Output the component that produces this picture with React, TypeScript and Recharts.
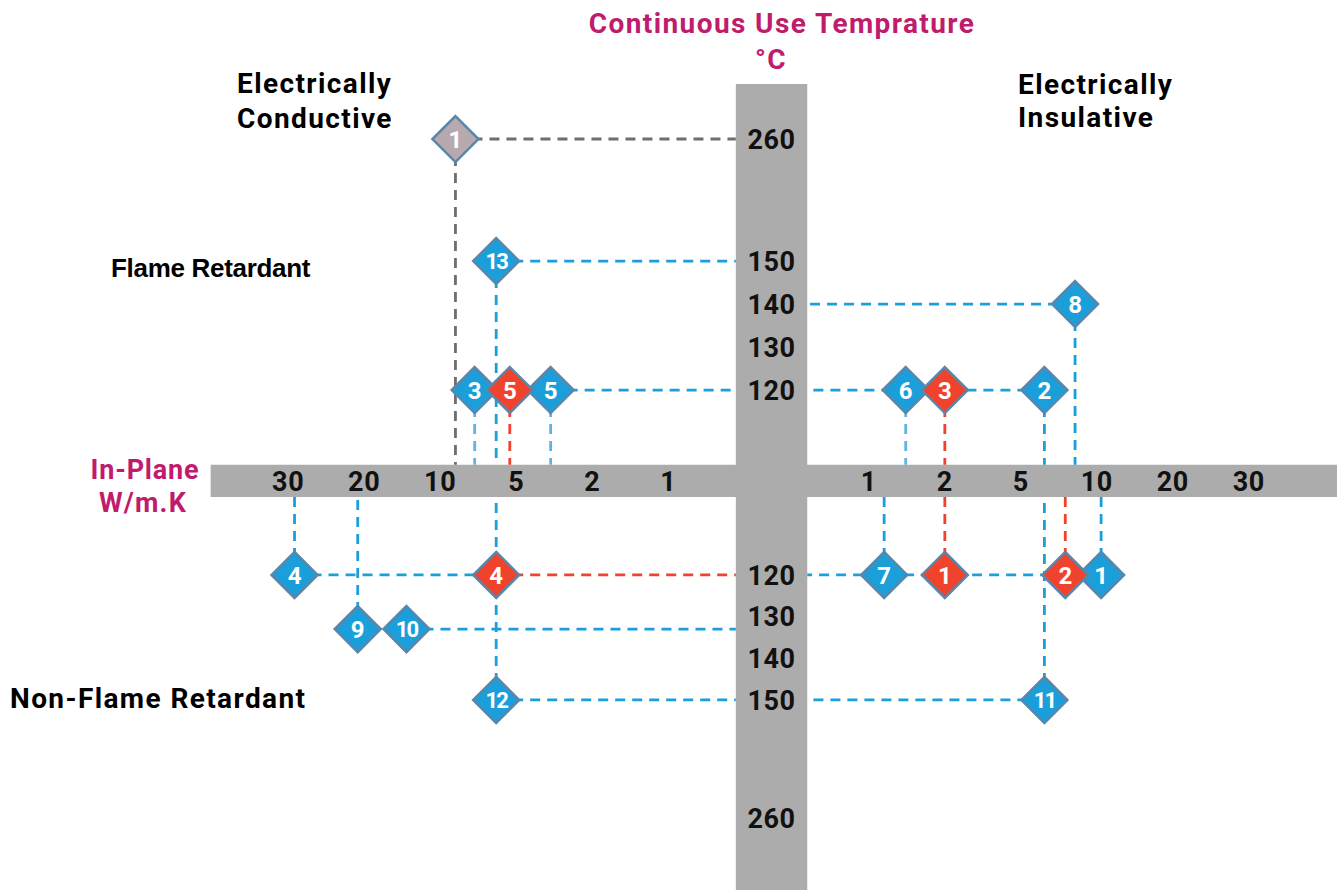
import React from 'react';
import { ScatterChart, Scatter, XAxis, YAxis, ReferenceArea, ReferenceLine } from 'recharts';

// ---------------- data ----------------
// axis tick values
const conductivityTicks = [1, 2, 5, 10, 20, 30]; // W/m.K (in-plane), mirrored on both sides
const temperatureTicks = [120, 130, 140, 150, 260]; // continuous use temperature, mirrored

// side: 'conductive' (left) | 'insulative' (right); fr: flame retardant (top) or not (bottom)
// h: horizontal connector -> true = to temperature axis, number = to point with that W/m.K
// v: vertical connector to conductivity axis
type Pt = { label: string; k: number; temp: number; side: 'conductive' | 'insulative'; fr: boolean; h?: boolean | number; v?: boolean };

const bluePoints: Pt[] = [
  { label: '13', k: 6, temp: 150, side: 'conductive', fr: true, h: true, v: true },
  { label: '3', k: 7.3, temp: 120, side: 'conductive', fr: true, v: true },
  { label: '5', k: 3.3, temp: 120, side: 'conductive', fr: true, h: true, v: true },
  { label: '6', k: 1.4, temp: 120, side: 'insulative', fr: true, v: true },
  { label: '2', k: 6.2, temp: 120, side: 'insulative', fr: true, h: true, v: true },
  { label: '8', k: 8.2, temp: 140, side: 'insulative', fr: true, h: true, v: true },
  { label: '4', k: 29, temp: 120, side: 'conductive', fr: false, h: 6, v: true },
  { label: '9', k: 20.7, temp: 133, side: 'conductive', fr: false, v: true },
  { label: '10', k: 13.6, temp: 133, side: 'conductive', fr: false, h: true },
  { label: '12', k: 6, temp: 150, side: 'conductive', fr: false, h: true, v: true },
  { label: '7', k: 1.15, temp: 120, side: 'insulative', fr: false, v: true },
  { label: '1', k: 10.4, temp: 120, side: 'insulative', fr: false, h: true, v: true },
  { label: '11', k: 6.2, temp: 150, side: 'insulative', fr: false, h: true, v: true },
];

const redPoints: Pt[] = [
  { label: '5', k: 5.3, temp: 120, side: 'conductive', fr: true, v: true },
  { label: '3', k: 2, temp: 120, side: 'insulative', fr: true, v: true },
  { label: '4', k: 6, temp: 120, side: 'conductive', fr: false, h: true },
  { label: '1', k: 2, temp: 120, side: 'insulative', fr: false, v: true },
  { label: '2', k: 7.5, temp: 120, side: 'insulative', fr: false, v: true },
];

const grayPoints: Pt[] = [
  { label: '1', k: 8.7, temp: 260, side: 'conductive', fr: true, h: true, v: true },
];

// ---------------- layout / scale ----------------
const W = 1343;
const H = 890;
const X_UNIT = 76; // px per conductivity step
const X_CENTER = 768.5;
const X_GAP = 1.32; // steps from centre to the "1" tick
const Y_UNIT = 43;
const Y_CENTER = 482.5;
const Y_GAP = 2.15;
const BOTTOM_SQUEEZE = 0.969;

const X_DOMAIN: [number, number] = [-X_CENTER / X_UNIT, (W - X_CENTER) / X_UNIT];
const Y_DOMAIN: [number, number] = [-(H - Y_CENTER) / Y_UNIT, Y_CENTER / Y_UNIT];

// gray axis bars (in chart units)
const BAR_V = { x1: -0.43, x2: 0.51, y1: Y_DOMAIN[0], y2: 9.27 };
const BAR_H = { x1: -7.34, x2: 7.48, y1: -0.34, y2: 0.41 };

// broken log-like conductivity scale
function kLevel(k: number): number {
  const t = conductivityTicks;
  if (k <= t[0]) return Math.log(k / t[0]) / Math.log(t[1] / t[0]);
  for (let i = 0; i < t.length - 1; i++) {
    if (k <= t[i + 1]) return i + Math.log(k / t[i]) / Math.log(t[i + 1] / t[i]);
  }
  const n = t.length - 1;
  return n + Math.log(k / t[n]) / Math.log(t[n] / t[n - 1]);
}
// broken temperature scale (150 -> 260 compressed)
function tLevel(temp: number): number {
  if (temp <= 150) return (temp - 120) / 10;
  return 3 + (temp - 150) * 0.0258;
}
const xOf = (k: number, side: Pt['side']) => (side === 'conductive' ? -1 : 1) * (X_GAP + kLevel(k));
const yOf = (temp: number, fr: boolean) => (fr ? Y_GAP + tLevel(temp) : -(Y_GAP + BOTTOM_SQUEEZE * tLevel(temp)));

const BLUE = '#1a9fdb';
const BLUE_SOFT = '#62b3e2';
const RED = '#f0432d';
const GRAY_LINE = '#6e6e6e';
const GRAY_FILL = '#b8a9ae';
const BAR = '#acacac';
const MAGENTA = '#c01b6d';
const EDGE = '#5a86aa';
const softVertical = new Set(['3', '5', '6']);

type Seg = { x1: number; y1: number; x2: number; y2: number; color: string };

function connectors(points: Pt[], color: string, soft?: boolean): Seg[] {
  const segs: Seg[] = [];
  points.forEach((p) => {
    const px = xOf(p.k, p.side);
    const py = yOf(p.temp, p.fr);
    if (p.h !== undefined && p.h !== false) {
      const ex = typeof p.h === 'number' ? xOf(p.h, p.side) : p.side === 'conductive' ? BAR_V.x1 : BAR_V.x2;
      segs.push({ x1: px, y1: py, x2: ex, y2: py, color });
    }
    if (p.v) {
      const ey = p.fr ? BAR_H.y2 : BAR_H.y1;
      const c = soft && p.fr && softVertical.has(p.label) ? BLUE_SOFT : color;
      segs.push({ x1: px, y1: py, x2: px, y2: ey, color: c });
    }
  });
  return segs;
}

const toData = (points: Pt[]) => points.map((p) => ({ x: xOf(p.k, p.side), y: yOf(p.temp, p.fr), label: p.label }));

const xTickData = (['conductive', 'insulative'] as const).flatMap((side) =>
  conductivityTicks.map((k) => ({ x: xOf(k, side), y: (BAR_H.y1 + BAR_H.y2) / 2, label: String(k) }))
);
const yTickData = [true, false].flatMap((fr) =>
  temperatureTicks.map((t) => ({ x: (BAR_V.x1 + BAR_V.x2) / 2, y: yOf(t, fr), label: String(t) }))
);

const FONT = 'Roboto, "DejaVu Sans", sans-serif';

const makeDiamond = (fill: string) => (props: any) => {
  const { cx, cy, payload } = props;
  if (cx == null || cy == null) return <g />;
  const r = 23;
  const two = payload.label.length > 1;
  return (
    <g>
      <polygon
        points={`${cx},${cy - r} ${cx + r},${cy} ${cx},${cy + r} ${cx - r},${cy}`}
        fill={fill}
        stroke={EDGE}
        strokeWidth={2.5}
      />
      <text
        x={cx}
        y={cy}
        dy="0.36em"
        textAnchor="middle"
        fill="#ffffff"
        fontFamily={FONT}
        fontWeight={700}
        fontSize={two ? 22 : 24}
        letterSpacing={two ? -2 : 0}
      >
        {payload.label}
      </text>
    </g>
  );
};

const tickShape = (props: any) => {
  const { cx, cy, payload } = props;
  if (cx == null || cy == null) return <g />;
  return (
    <text x={cx} y={cy} dy="0.36em" textAnchor="middle" fill="#111" fontFamily={FONT} fontWeight={700} fontSize={27} letterSpacing={0.6}>
      {payload.label}
    </text>
  );
};

export default function App() {
  const segs = [
    ...connectors(grayPoints, GRAY_LINE),
    ...connectors(bluePoints, BLUE, true),
    ...connectors(redPoints, RED),
  ];
  const labelStyle = { fontFamily: FONT, fontWeight: 700, fontSize: 28, letterSpacing: 1.4 } as const;
  return (
    <div style={{ position: 'absolute', left: 0, top: 0, width: W, height: H, background: '#fff' }}>
      <ScatterChart width={W} height={H} margin={{ top: 0, right: 0, bottom: 0, left: 0 }}>
        <XAxis type="number" dataKey="x" domain={X_DOMAIN} allowDataOverflow hide />
        <YAxis type="number" dataKey="y" domain={Y_DOMAIN} allowDataOverflow hide />
        <ReferenceArea x1={BAR_V.x1} x2={BAR_V.x2} y1={BAR_V.y1} y2={BAR_V.y2} fill={BAR} fillOpacity={1} stroke="none" ifOverflow="visible" />
        <ReferenceArea x1={BAR_H.x1} x2={BAR_H.x2} y1={BAR_H.y1} y2={BAR_H.y2} fill={BAR} fillOpacity={1} stroke="none" ifOverflow="visible" />
        {segs.map((s, i) => (
          <ReferenceLine
            key={i}
            segment={[
              { x: s.x1, y: s.y1 },
              { x: s.x2, y: s.y2 },
            ]}
            stroke={s.color}
            strokeWidth={2.8}
            strokeDasharray="10 7"
            ifOverflow="visible"
          />
        ))}
        <Scatter data={xTickData} shape={tickShape} isAnimationActive={false} />
        <Scatter data={yTickData} shape={tickShape} isAnimationActive={false} />
        <Scatter data={toData(bluePoints)} shape={makeDiamond(BLUE)} isAnimationActive={false} />
        <Scatter data={toData(redPoints)} shape={makeDiamond(RED)} isAnimationActive={false} />
        <Scatter data={toData(grayPoints)} shape={makeDiamond(GRAY_FILL)} isAnimationActive={false} />
      </ScatterChart>
      <svg width={W} height={H} style={{ position: 'absolute', left: 0, top: 0, pointerEvents: 'none' }}>
        <text x={782} y={33} textAnchor="middle" fill={MAGENTA} {...labelStyle}>Continuous Use Temprature</text>
        <text x={771} y={69} textAnchor="middle" fill={MAGENTA} {...labelStyle}>°C</text>
        <text x={237} y={93} fill="#000" {...labelStyle}>Electrically</text>
        <text x={237} y={128} fill="#000" {...labelStyle}>Conductive</text>
        <text x={1018} y={94} fill="#000" {...labelStyle}>Electrically</text>
        <text x={1018} y={127} fill="#000" {...labelStyle}>Insulative</text>
        <text x={111} y={277} fill="#000" fontFamily='"Liberation Sans", Arial, sans-serif' fontWeight={700} fontSize={26} letterSpacing={-0.3}>Flame Retardant</text>
        <text x={10} y={708} fill="#000" {...labelStyle}>Non-Flame Retardant</text>
        <text x={145} y={479} textAnchor="middle" fill={MAGENTA} {...labelStyle} fontSize={27} letterSpacing={0.8}>In-Plane</text>
        <text x={143} y={512} textAnchor="middle" fill={MAGENTA} {...labelStyle} fontSize={27} letterSpacing={1.2}>W/m.K</text>
      </svg>
    </div>
  );
}
